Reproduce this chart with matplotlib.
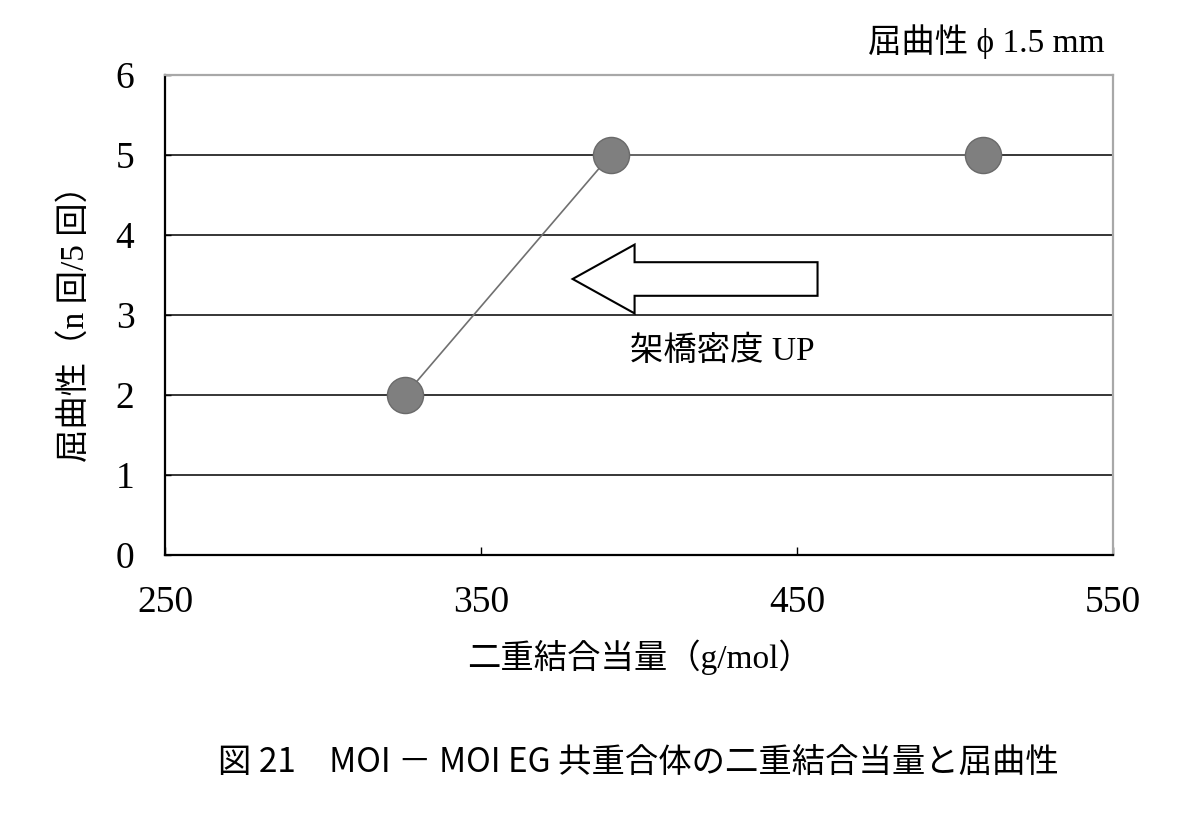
import matplotlib
matplotlib.use("Agg")
import matplotlib.pyplot as plt
from matplotlib.patches import FancyArrow

# Data
equiv = [326, 391, 509]          # 二重結合当量 (g/mol)
flex = [2, 5, 5]                 # 屈曲性 (n回/5回)
x_ticks = [250, 350, 450, 550]
y_ticks = [0, 1, 2, 3, 4, 5, 6]

SERIF = ['Liberation Serif', 'Noto Sans CJK JP']
CJK = ['Noto Sans CJK JP', 'DejaVu Sans']

fig = plt.figure(figsize=(11.92, 8.35), dpi=100)
ax = fig.add_axes([165/1192, 1-555/835, (1113-165)/1192, (555-75)/835])

ax.set_xlim(250, 550)
ax.set_ylim(0, 6)
ax.set_xticks(x_ticks)
ax.set_yticks(y_ticks)
ax.set_xticklabels([str(v) for v in x_ticks], family=SERIF, fontsize=27)
ax.set_yticklabels([str(v) for v in y_ticks], family=SERIF, fontsize=27)
ax.tick_params(axis='x', direction='in', length=6, width=1, pad=22)
ax.tick_params(axis='y', direction='in', length=4, width=1, pad=22)

for y in y_ticks[1:-1]:
    ax.axhline(y, color='black', lw=1.1, zorder=1)

ax.spines['left'].set_color('black')
ax.spines['left'].set_linewidth(1.6)
ax.spines['bottom'].set_color('black')
ax.spines['bottom'].set_linewidth(1.6)
for s in ('top', 'right'):
    ax.spines[s].set_color('#a8a8a8')
    ax.spines[s].set_linewidth(1.6)

ax.plot(equiv, flex, color='#707070', lw=1.2, zorder=2)
ax.plot(equiv, flex, 'o', ms=26, mfc='#7f7f7f', mec='#6a6a6a', mew=1, zorder=3,
        linestyle='none')

arrow = FancyArrow(456.5, 3.45, -77.5, 0, width=0.42, head_width=0.86,
                   head_length=19.6, length_includes_head=True,
                   facecolor='white', edgecolor='black', lw=1.5, zorder=4)
ax.add_patch(arrow)
ax.text(397, 2.55, '架橋密度 UP', family=SERIF, fontsize=24, ha='left',
        va='center', zorder=5)

ax.set_xlabel('二重結合当量（g/mol）', family=SERIF, fontsize=24, labelpad=14)
ax.set_ylabel('屈曲性（n 回/5 回）', family=SERIF, fontsize=24, labelpad=18)

fig.text(1105/1192, 1-42/835, '屈曲性 ϕ 1.5 mm', family=SERIF, fontsize=24,
         ha='right', va='center')
fig.text(638/1192, 1-762/835, '図 21　MOI － MOI EG 共重合体の二重結合当量と屈曲性',
         family=CJK, fontsize=24, ha='center', va='center')

fig.savefig('out.png', dpi=100)
